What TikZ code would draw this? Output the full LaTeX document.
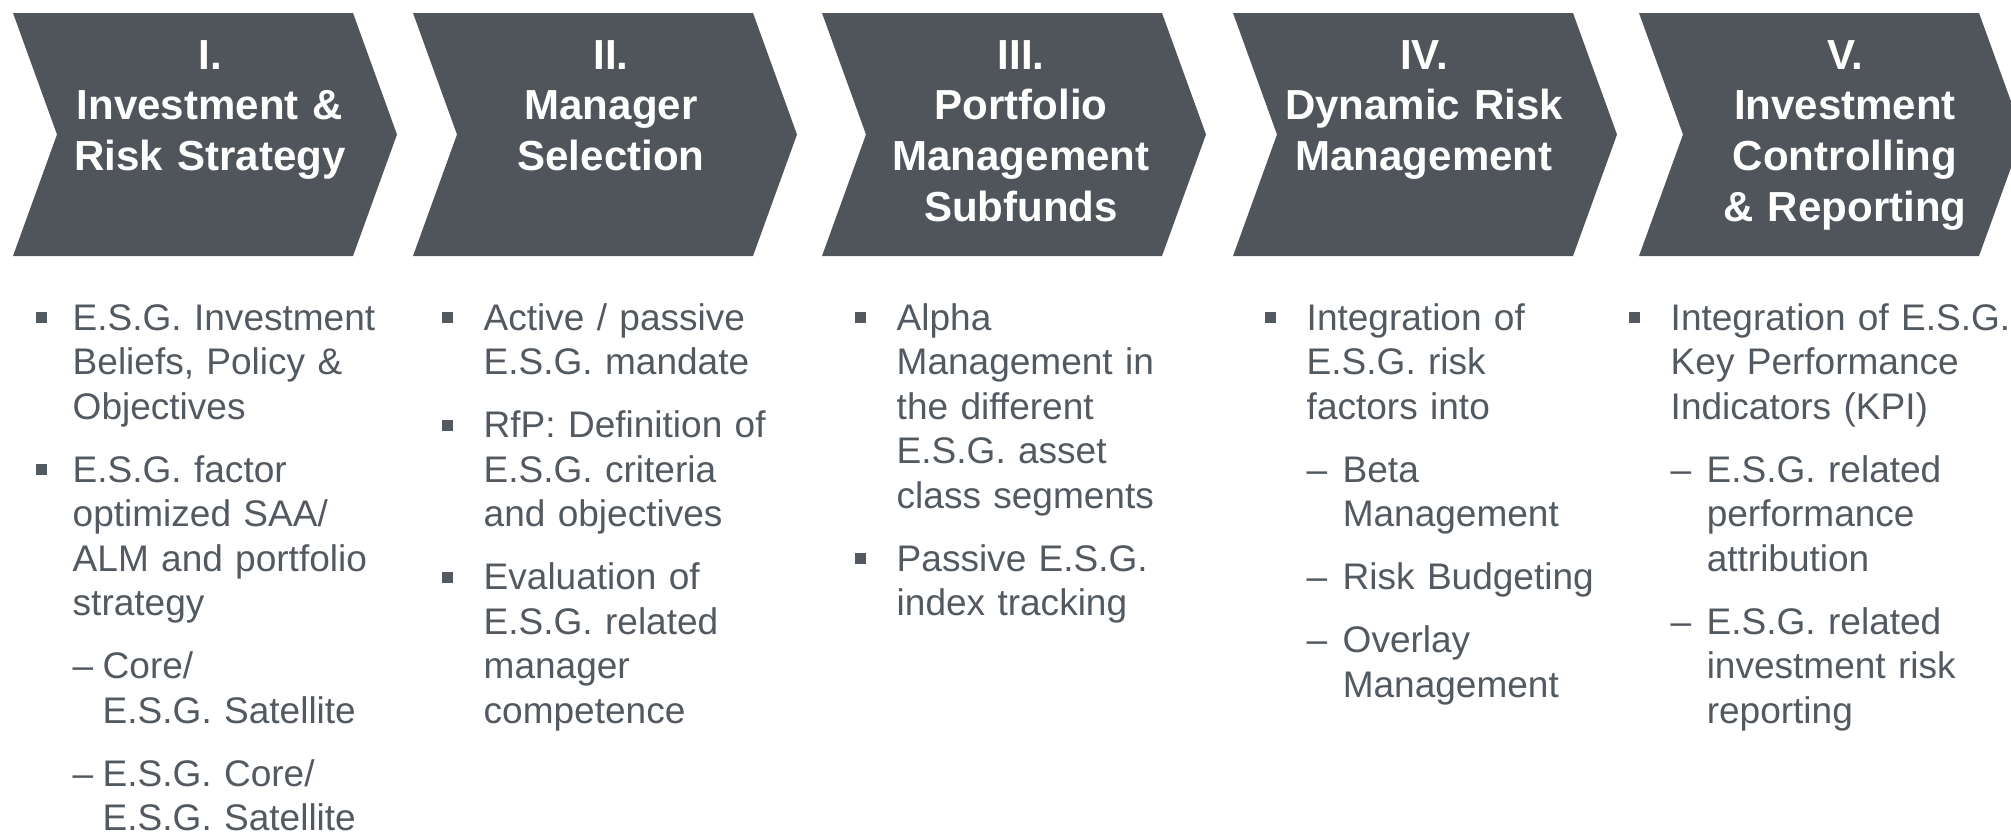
\documentclass[tikz,border=0pt]{standalone}
\usepackage{fontspec}
\setmainfont{Liberation Sans}
\usetikzlibrary{positioning}

\definecolor{chevgray}{RGB}{80,85,91}
\definecolor{txtgray}{RGB}{83,89,97}

% square bullet and list lines
\newlength{\esgind}
\setlength{\esgind}{0.42cm}
\newcommand{\sqbullet}{\raisebox{0.07cm}{\rule{0.11cm}{0.11cm}}}
\newcommand{\esgpoint}[1]{\ifvmode\vspace{0.185cm}\fi\noindent
  \hangindent=\esgind\hangafter=1\makebox[\esgind][l]{\sqbullet}#1\par}
\newcommand{\esgdash}[2][0.36cm]{\ifvmode\vspace{0.185cm}\fi\noindent
  \hangindent=\dimexpr\esgind+#1\relax\hangafter=1
  \hspace*{\esgind}\makebox[#1][l]{\textendash}#2\par}

\begin{document}
\begin{tikzpicture}[
    x=0.01cm, y=-0.01cm,
    phase/.style={fill=chevgray, draw=none},
    phasetitle/.style={anchor=base, text width=3.4cm, align=center, inner sep=0pt,
      text=white, font=\bfseries\fontsize{0.42cm}{0.507cm}\selectfont},
    phasebody/.style={anchor=base west, text width=4cm, align=left, inner sep=0pt,
      text=txtgray, font=\fontsize{0.37cm}{0.445cm}\selectfont}
]
    \useasboundingbox (0,0) rectangle (2011,832);

    % Chevrons
    \foreach \l/\n in {13/chI, 413/chII, 822/chIII, 1233/chIV, 1639/chV}
        \fill[phase] (\l,13) coordinate (\n) -- ++(340,0) -- ++(44,121.5)
            -- ++(-44,121.5) -- ++(-340,0) -- ++(44,-121.5) -- cycle;

    % Titles
    \node[phasetitle] (tI)   at (210,69)   {I.\\Investment \&\\Risk Strategy};
    \node[phasetitle] (tII)  at (611,69)   {II.\\Manager\\Selection};
    \node[phasetitle] (tIII) at (1021,69)  {III.\\Portfolio\\Management\\Subfunds};
    \node[phasetitle] (tIV)  at (1424,69)  {IV.\\Dynamic Risk\\Management};
    \node[phasetitle] (tV)   at (1845,69)  {V.\\Investment\\Controlling\\\& Reporting};

    % Bullet lists
    \node[phasebody] (bI) at (35,330) {%
        \setlength{\esgind}{0.37cm}%
        \esgpoint{E.S.G. Investment\newline Beliefs, Policy \&\newline Objectives}%
        \esgpoint{E.S.G. factor\newline optimized SAA/\newline ALM and portfolio\newline strategy}%
        \esgdash[0.30cm]{Core/\newline E.S.G. Satellite}%
        \esgdash[0.30cm]{E.S.G. Core/\newline E.S.G. Satellite}};
    \node[phasebody] (bII) at (441,330) {%
        \esgpoint{Active / passive\newline E.S.G. mandate}%
        \esgpoint{RfP: Definition of\newline E.S.G. criteria\newline and objectives}%
        \esgpoint{Evaluation of\newline E.S.G. related\newline manager\newline competence}};
    \node[phasebody] (bIII) at (854,330) {%
        \esgpoint{Alpha\newline Management in\newline the different\newline E.S.G. asset\newline class segments}%
        \esgpoint{Passive E.S.G.\newline index tracking}};
    \node[phasebody] (bIV) at (1264,330) {%
        \esgpoint{Integration of\newline E.S.G. risk\newline factors into}%
        \esgdash{Beta\newline Management}%
        \esgdash{Risk Budgeting}%
        \esgdash{Overlay\newline Management}};
    \node[phasebody] (bV) at (1628,330) {%
        \esgpoint{Integration of E.S.G.\newline Key Performance\newline Indicators (KPI)}%
        \esgdash{E.S.G. related\newline performance\newline attribution}%
        \esgdash{E.S.G. related\newline investment risk\newline reporting}};

\end{tikzpicture}
\end{document}
